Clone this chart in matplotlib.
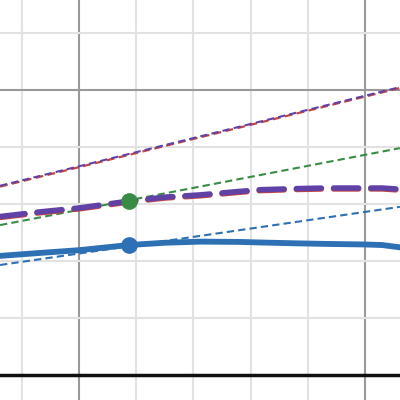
import matplotlib
matplotlib.use("Agg")
import matplotlib.pyplot as plt
import numpy as np

# Curves (data units)
curve_x = [3.62, 4.3, 5.0, 5.87, 6.5, 7.12, 7.8, 8.16, 8.8, 9.3, 10.0, 10.3, 10.61]
blue_y = [2.09, 2.14, 2.19, 2.28, 2.32, 2.34, 2.335, 2.325, 2.31, 2.30, 2.29, 2.28, 2.24]
purple_y = [2.78, 2.86, 2.93, 3.05, 3.12, 3.16, 3.22, 3.25, 3.27, 3.28, 3.28, 3.28, 3.26]

# Tangent / reference lines (endpoints)
line_x = [3.62, 10.61]
purple_line_y = [3.32, 5.05]
green_line_y = [2.63, 3.98]
blue_line_y = [1.93, 2.95]

# Points
pt_x = [5.87, 5.87]
pt_y = [2.28, 3.05]
pt_colors = ["#2d70b3", "#388c46"]

BLUE = "#2d70b3"
GREEN = "#388c46"
PURPLE = "#6042a6"
RED = "#c74440"

fig = plt.figure(figsize=(4, 4), dpi=100)
ax = fig.add_axes([0, 0, 1, 1])
xmin, xmax = 3.619, 10.612
ymin, ymax = -0.4386, 6.579
ax.set_xlim(xmin, xmax)
ax.set_ylim(ymin, ymax)
ax.axis("off")

# grid
for gx in np.arange(4, 11):
    major = (gx % 5 == 0)
    ax.axvline(gx, color="#999999" if major else "#e2e2e2", lw=1.5, zorder=0)
for gy in np.arange(1, 7):
    major = (gy % 5 == 0)
    ax.axhline(gy, color="#999999" if major else "#e2e2e2", lw=1.5, zorder=0)
ax.axhline(0, color="#111111", lw=2.5, zorder=1)

# thin dashed lines
ax.plot(line_x, [v - 0.015 for v in purple_line_y], color=RED, lw=1.6,
        dashes=(3.5, 2), zorder=2)
ax.plot(line_x, purple_line_y, color=PURPLE, lw=1.5, dashes=(3.5, 2), zorder=3)
ax.plot(line_x, green_line_y, color=GREEN, lw=1.5, dashes=(3.5, 2), zorder=3)
ax.plot(line_x, blue_line_y, color=BLUE, lw=1.5, dashes=(3.5, 2), zorder=3)

# thick curves
ax.plot(curve_x, blue_y, color=BLUE, lw=4.2, solid_capstyle="round", zorder=4)
ax.plot(curve_x, [v - 0.015 for v in purple_y], color=RED, lw=4.0,
        dashes=(4.5, 2.2), dash_capstyle="round", zorder=4)
ax.plot(curve_x, purple_y, color=PURPLE, lw=4.0, dashes=(4.5, 2.2),
        dash_capstyle="round", zorder=5)

# points
for x, y, c in zip(pt_x, pt_y, pt_colors):
    ax.plot([x], [y], "o", color=c, ms=11, zorder=6)

fig.savefig("out.png", dpi=100)
